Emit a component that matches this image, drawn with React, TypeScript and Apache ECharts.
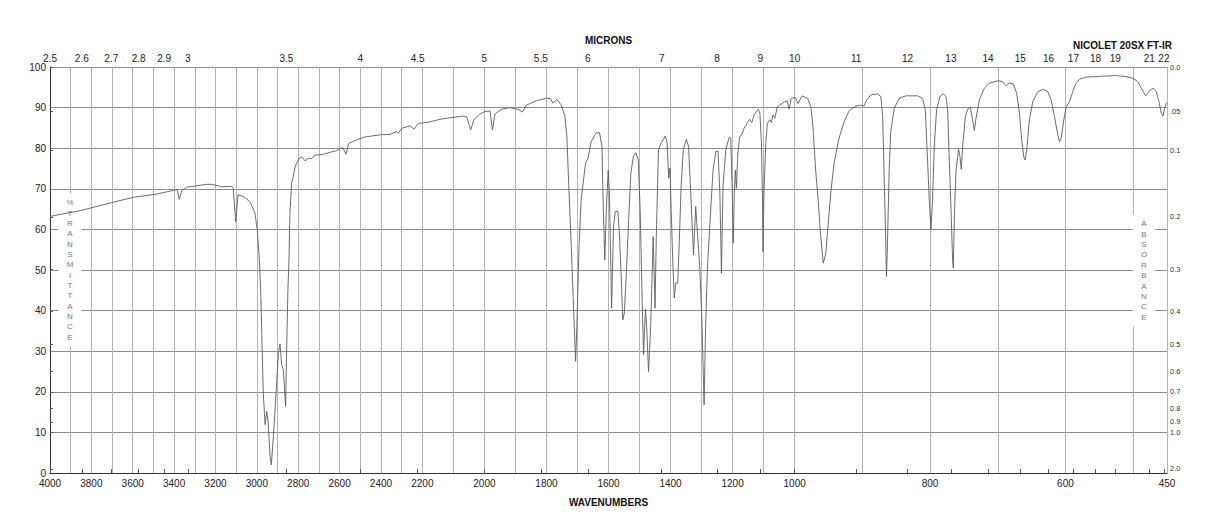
import React, { useEffect, useRef } from "react";
import * as echarts from "echarts";

// ---- Spectrum data (wavenumber in cm-1, % transmittance) ----
const wavenumbers = [
  4000, 3855, 3702, 3597, 3484, 3396, 3385, 3375, 3363, 3339, 3242, 3218, 3170, 3121, 3114,
  3102, 3091, 3065, 3033, 3009, 2998, 2988, 2981, 2975, 2969, 2960, 2952, 2945, 2936, 2930,
  2920, 2907, 2896, 2888, 2880, 2872, 2861, 2856, 2850, 2845, 2840, 2832, 2824, 2815, 2799,
  2783, 2767, 2751, 2735, 2719, 2686, 2646, 2614, 2585, 2569, 2556, 2518, 2485, 2404, 2356,
  2324, 2316, 2300, 2259, 2240, 2219, 2181, 2143, 2111, 2068, 2057, 2044, 2034, 2015, 1999,
  1982, 1974, 1966, 1945, 1918, 1892, 1877, 1865, 1832, 1800, 1787, 1779, 1766, 1752, 1741,
  1734, 1730, 1727, 1720, 1712, 1706, 1702, 1695, 1688, 1674, 1666, 1656, 1640, 1629, 1621,
  1618, 1612, 1607, 1601, 1597, 1590, 1584, 1578, 1570, 1565, 1559, 1554, 1549, 1543, 1535,
  1528, 1520, 1512, 1504, 1498, 1492, 1487, 1481, 1477, 1471, 1464, 1456, 1450, 1446, 1439,
  1431, 1417, 1411, 1406, 1402, 1398, 1393, 1388, 1383, 1377, 1372, 1366, 1359, 1349, 1342,
  1335, 1326, 1319, 1314, 1306, 1299, 1292, 1287, 1281, 1270, 1263, 1254, 1247, 1241, 1236,
  1231, 1222, 1211, 1206, 1201, 1198, 1194, 1191, 1188, 1183, 1177, 1170, 1163, 1152, 1145,
  1138, 1131, 1117, 1112, 1107, 1104, 1102, 1099, 1093, 1088, 1080, 1075, 1070, 1064, 1056,
  1040, 1024, 1018, 1011, 999, 995, 989, 981, 976, 973, 969, 965, 961.5, 957.7, 954,
  950, 946.7, 941.8, 934.4, 927, 919.6, 909.7, 902, 897.4, 893.4, 887.5, 877.7, 872.7, 870, 867.8,
  865.3, 864.4, 863, 860.4, 858, 853, 845.6, 835.7, 818.5, 811, 807, 803.7, 801.2, 798.7, 796.3,
  793.8, 790.4, 785.5, 780.5, 776.5, 774, 771.6, 769, 766.7, 765.7, 763.8, 761.7, 757.9, 755.8, 753.9,
  751.9, 747.9, 744.5, 740.6, 737.2, 734.6, 732.1, 727.2, 719.8, 712.4, 700, 692.8, 687.8, 682.8, 676.9,
  672, 668, 664.6, 661.6, 659.6, 657.2, 653.2, 648.3, 640.9, 632.5, 626.1, 621.1, 616.2, 611.4, 608.8,
  606.3, 602.9, 598.9, 594, 590, 585.2, 579.2, 569.3, 549.7, 525, 510, 500.3, 493, 488, 481.6,
  475.7, 470.8, 465.8, 461.9, 458.4, 456, 453.5, 451, 450,
];
const transmittance = [
  63.2, 64.6, 66.6, 67.9, 68.7, 69.7, 69.8, 67.4, 69.5, 70.4, 71.1, 71.1, 70.5, 70.6, 70.1,
  61.9, 68.5, 68.1, 66.8, 64.0, 59.9, 52.5, 44.3, 32.0, 19.7, 11.9, 15.2, 12.3, 4.1, 2.0,
  9.0, 19.7, 29.5, 31.8, 26.7, 25.4, 16.4, 30.0, 45.0, 52.0, 64.0, 71.4, 73.0, 75.5, 77.3,
  77.9, 76.9, 77.5, 77.4, 78.3, 78.4, 79.0, 79.4, 80.2, 78.5, 81.2, 82.0, 82.7, 83.3, 83.4,
  84.1, 83.7, 84.9, 85.5, 84.7, 86.1, 86.4, 87.1, 87.5, 87.9, 87.7, 84.5, 87.0, 88.4, 89.0,
  89.2, 84.5, 88.4, 89.6, 90.0, 89.6, 88.9, 90.6, 91.7, 92.3, 92.2, 91.1, 92.0, 90.6, 88.0,
  82.8, 74.6, 68.9, 55.8, 39.4, 27.5, 36.1, 55.8, 67.3, 76.3, 77.5, 81.6, 83.8, 83.8, 80.4,
  68.9, 52.5, 64.8, 74.6, 68.9, 40.6, 60.7, 64.4, 64.4, 59.1, 48.4, 37.7, 39.4, 48.4, 62.3,
  73.8, 77.9, 78.9, 77.1, 64.8, 44.3, 29.1, 40.4, 36.1, 25.0, 36.1, 58.2, 40.6, 58.2, 79.6,
  81.2, 83.0, 81.2, 72.6, 75.1, 64.8, 52.5, 43.1, 46.8, 46.8, 56.6, 70.5, 79.6, 82.2, 80.4,
  68.9, 53.7, 65.6, 59.9, 50.8, 37.7, 16.8, 36.1, 50.8, 65.6, 74.6, 79.2, 79.2, 68.9, 49.2,
  70.5, 79.6, 82.7, 82.5, 68.9, 56.6, 70.5, 74.6, 70.1, 78.8, 82.8, 83.4, 84.9, 86.3, 87.1,
  86.3, 88.2, 89.6, 88.6, 81.2, 68.9, 54.5, 68.9, 81.2, 86.1, 87.0, 86.3, 88.2, 87.4, 90.2,
  91.1, 91.7, 89.6, 92.3, 92.5, 91.0, 92.9, 92.3, 90.2, 85.3, 74.6, 66.5, 58.2, 51.7, 54.1,
  62.3, 68.9, 76.3, 82.5, 86.5, 89.2, 90.4, 90.6, 90.4, 92.0, 93.1, 93.4, 92.7, 87.8, 73.0,
  55.8, 48.4, 55.8, 74.6, 84.1, 89.8, 92.3, 92.9, 92.9, 92.3, 89.4, 77.1, 67.3, 59.9, 67.3,
  80.4, 89.4, 92.7, 93.4, 92.7, 89.4, 77.1, 64.8, 52.5, 50.5, 64.8, 74.6, 79.7, 77.9, 74.8,
  80.4, 87.8, 89.6, 90.1, 87.0, 84.3, 87.4, 91.9, 94.8, 96.0, 96.6, 96.4, 95.4, 96.1, 95.8,
  93.5, 88.6, 82.0, 77.9, 77.1, 79.6, 87.0, 91.5, 93.9, 94.5, 93.9, 91.9, 87.8, 83.3, 81.6,
  82.5, 86.5, 90.2, 91.5, 93.5, 95.8, 97.0, 97.5, 97.7, 97.9, 97.6, 97.2, 96.4, 94.8, 92.9,
  94.2, 94.8, 93.9, 91.5, 88.6, 87.9, 89.8, 91.1, 91.3,
];

// ---- Axis tick definitions ----
const wavenumberLabels = [
  4000, 3800, 3600, 3400, 3200, 3000, 2800, 2600, 2400, 2200, 2000, 1800, 1600, 1400, 1200, 1000,
  800, 600, 450,
];
const wavenumberGrid = [
  4000, 3900, 3800, 3700, 3600, 3500, 3400, 3300, 3200, 3100, 3000, 2900, 2800, 2700, 2600, 2500,
  2400, 2300, 2200, 2100, 2000, 1900, 1800, 1700, 1600, 1500, 1400, 1300, 1200, 1100, 1000, 900,
  800, 700, 600, 500, 450,
];
const micronLabels = [
  2.5, 2.6, 2.7, 2.8, 2.9, 3, 3.5, 4, 4.5, 5, 5.5, 6, 7, 8, 9, 10, 11, 12, 13, 14, 15, 16, 17, 18,
  19, 21, 22,
];
const absorbanceValues = [0, 0.05, 0.1, 0.2, 0.3, 0.4, 0.5, 0.6, 0.7, 0.8, 0.9, 1.0, 2.0];
const absorbanceLabels = ["0.0", ".05", "0.1", "0.2", "0.3", "0.4", "0.5", "0.6", "0.7", "0.8", "0.9", "1.0", "2.0"];

// Piecewise-linear wavenumber scale of the chart paper (three equal panels)
function toU(w: number): number {
  if (w >= 2200) return (4000 - w) / 1800;
  if (w >= 1000) return 1 + (2200 - w) / 1200;
  return 2 + (1000 - w) / 550;
}
function fromU(u: number): number {
  if (u <= 1) return 4000 - u * 1800;
  if (u <= 2) return 2200 - (u - 1) * 1200;
  return 1000 - (u - 2) * 550;
}

const FONT = "'Liberation Sans', Arial, Helvetica, sans-serif";

export default function App() {
  const ref = useRef<HTMLDivElement>(null);

  useEffect(() => {
    if (!ref.current) return;
    const chart = echarts.init(ref.current, undefined, { renderer: "svg" });

    const data = wavenumbers.map((w, i) => [toU(w), transmittance[i]]);
    const labelU = wavenumberLabels.map(toU);
    const gridU = wavenumberGrid.map(toU);
    const micronU = micronLabels.map((m) => toU(10000 / m));
    const absT = absorbanceValues.map((a) => 100 * Math.pow(10, -a));

    const option: any = {
      animation: false,
      backgroundColor: "#ffffff",
      grid: { left: 50, right: 51, top: 67, bottom: 55, containLabel: false },
      xAxis: [
        {
          type: "value",
          position: "bottom",
          min: 0,
          max: 3,
          name: "WAVENUMBERS",
          nameLocation: "middle",
          nameGap: 24,
          nameTextStyle: { fontWeight: "bold", fontSize: 10, color: "#111", fontFamily: FONT },
          axisLine: { show: true, lineStyle: { color: "#333", width: 1 } },
          axisTick: { show: false, customValues: gridU },
          axisLabel: {
            customValues: labelU,
            formatter: (v: number) => String(Math.round(fromU(v))),
            fontSize: 10,
            color: "#222",
            margin: 5,
            fontFamily: FONT,
          },
          splitLine: { show: true, lineStyle: { color: "#b4b4b4", width: 1 } },
        },
        {
          type: "value",
          position: "top",
          min: 0,
          max: 3,
          name: "MICRONS",
          nameLocation: "middle",
          nameGap: 22,
          nameTextStyle: { fontWeight: "bold", fontSize: 10, color: "#111", fontFamily: FONT },
          axisLine: { show: true, lineStyle: { color: "#333", width: 1 } },
          axisTick: { show: true, customValues: micronU, length: 4, lineStyle: { color: "#555" } },
          axisLabel: {
            customValues: micronU,
            formatter: (v: number) => String(parseFloat((10000 / fromU(v)).toFixed(1))),
            fontSize: 10,
            color: "#222",
            margin: 4,
            fontFamily: FONT,
          },
          splitLine: { show: false },
        },
      ],
      yAxis: [
        {
          type: "value",
          position: "left",
          min: 0,
          max: 100,
          interval: 10,
          axisLine: { show: true, lineStyle: { color: "#333", width: 1 } },
          axisTick: { show: false },
          axisLabel: { fontSize: 10, color: "#222", margin: 4, fontFamily: FONT },
          splitLine: { show: true, lineStyle: { color: "#8c8c8c", width: 1 } },
        },
        {
          type: "value",
          position: "right",
          min: 0,
          max: 100,
          axisLine: { show: true, lineStyle: { color: "#333", width: 1 } },
          axisTick: { show: true, customValues: absT, length: 3, lineStyle: { color: "#555" } },
          axisLabel: {
            customValues: absT,
            formatter: (v: number) => {
              let best = 0;
              for (let i = 1; i < absT.length; i++) {
                if (Math.abs(absT[i] - v) < Math.abs(absT[best] - v)) best = i;
              }
              return absorbanceLabels[best];
            },
            fontSize: 7.5,
            color: "#333",
            margin: 3,
            fontFamily: FONT,
          },
          splitLine: { show: false },
        },
      ],
      series: [
        {
          type: "line",
          data,
          xAxisIndex: 0,
          yAxisIndex: 0,
          showSymbol: false,
          symbol: "none",
          silent: true,
          z: 3,
          lineStyle: { color: "#5c5c5c", width: 0.9 },
        },
      ],
      graphic: [
        {
          type: "text",
          z: 1,
          x: 70,
          y: 270,
          style: {
            text: "%\nT\nR\nA\nN\nS\nM\nI\nT\nT\nA\nN\nC\nE",
            textAlign: "center",
            textVerticalAlign: "middle",
            font: `8px ${FONT}`,
            lineHeight: 10.35,
            fill: "#7a7a7a",
            backgroundColor: "#ffffff",
            padding: [4, 8],
          },
        },
        {
          type: "text",
          z: 1,
          x: 1144,
          y: 270.5,
          style: {
            text: "A\nB\nS\nO\nR\nB\nA\nN\nC\nE",
            textAlign: "center",
            textVerticalAlign: "middle",
            font: `8px ${FONT}`,
            lineHeight: 10.35,
            fill: "#7a7a7a",
            backgroundColor: "#ffffff",
            padding: [4, 8],
          },
        },
        {
          type: "text",
          z: 5,
          x: 1172,
          y: 45,
          style: {
            text: "NICOLET 20SX FT-IR",
            textAlign: "right",
            textVerticalAlign: "middle",
            font: `bold 10px ${FONT}`,
            fill: "#111111",
          },
        },
      ],
    };

    chart.setOption(option);
    return () => chart.dispose();
  }, []);

  return (
    <div
      ref={ref}
      style={{ position: "absolute", left: 0, top: 0, width: 1218, height: 528, background: "#fff" }}
    />
  );
}
